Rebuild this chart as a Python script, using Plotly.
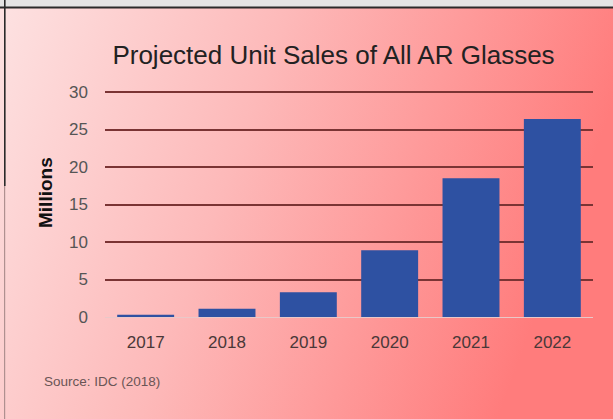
import plotly.graph_objects as go
import base64

years = ["2017", "2018", "2019", "2020", "2021", "2022"]
sales_millions = [0.3, 1.1, 3.3, 8.9, 18.5, 26.4]
y_ticks = [0, 5, 10, 15, 20, 25, 30]

svg = ('<svg xmlns="http://www.w3.org/2000/svg" width="613" height="419" viewBox="0 0 613 419" preserveAspectRatio="none">'
       '<defs><linearGradient id="g" x1="0" y1="0" x2="1" y2="0.25">'
       '<stop offset="0" stop-color="#fde2e2"/>'
       '<stop offset="0.45" stop-color="#fdb9b9"/>'
       '<stop offset="1" stop-color="#ff7c7c"/>'
       '</linearGradient></defs>'
       '<rect x="0" y="0" width="613" height="419" fill="url(#g)"/>'
       '<rect x="0" y="0" width="613" height="7" fill="#e4e4e4"/>'
       '<rect x="0" y="6.5" width="613" height="2" fill="#2a2a2a"/>'
       '<rect x="4" y="0" width="1.6" height="186" fill="#2a2a2a"/>'
       '<rect x="4" y="186" width="1.2" height="233" fill="#b09090"/>'
       '</svg>')
src = "data:image/svg+xml;base64," + base64.b64encode(svg.encode()).decode()

tick_font = "Liberation Sans, Arial"
plot_w = 488
plot_h = 228  # 0..30.4 at 7.5 px per unit
top_m = 89

fig = go.Figure()
fig.add_trace(go.Bar(x=years, y=sales_millions, marker=dict(color="#2e51a2", line=dict(width=0))))

fig.update_layout(
    width=613, height=419,
    margin=dict(l=105, r=20, t=top_m, b=102),
    paper_bgcolor="rgba(0,0,0,0)",
    plot_bgcolor="rgba(0,0,0,0)",
    bargap=0.3,
    showlegend=False,
    font=dict(family="Liberation Sans, Arial", color="#444"),
    title=dict(text="Projected Unit Sales of All AR Glasses", x=333.5/613, xanchor="center",
               y=1 - 55/419, yanchor="middle", font=dict(size=26, color="#222")),
    images=[dict(source=src, xref="paper", yref="paper",
                 x=-105/plot_w, y=1 + top_m/plot_h, sizex=613/plot_w, sizey=419/plot_h,
                 xanchor="left", yanchor="top", sizing="stretch", layer="below")],
)
fig.update_xaxes(showgrid=False, showline=False, ticks="",
                 tickfont=dict(size=17, color="#4a3838", family=tick_font),
                 ticklabelstandoff=13)
fig.update_yaxes(range=[0, 30.4], tickvals=y_ticks, showgrid=True, gridcolor="#7a3434", gridwidth=1.5,
                 zeroline=True, zerolinecolor="#e9c8c8", zerolinewidth=1, showline=False,
                 tickfont=dict(size=17, color="#555", family=tick_font), ticklabelstandoff=16)
fig.add_annotation(text="<b>Millions</b>", xref="paper", yref="paper", x=-60/plot_w, y=(317-193)/plot_h,
                   xanchor="center", yanchor="middle", textangle=-90, showarrow=False,
                   font=dict(size=19, color="#111"))
fig.add_annotation(text="Source: IDC (2018)", xref="paper", yref="paper", x=-63/plot_w, y=-64/plot_h,
                   xanchor="left", yanchor="middle", showarrow=False, font=dict(size=13.5, color="#6a5555"))

fig.write_html("out.html", config={"displayModeBar": False},
               post_script="document.body.style.margin='0';document.body.style.overflow='hidden';")
